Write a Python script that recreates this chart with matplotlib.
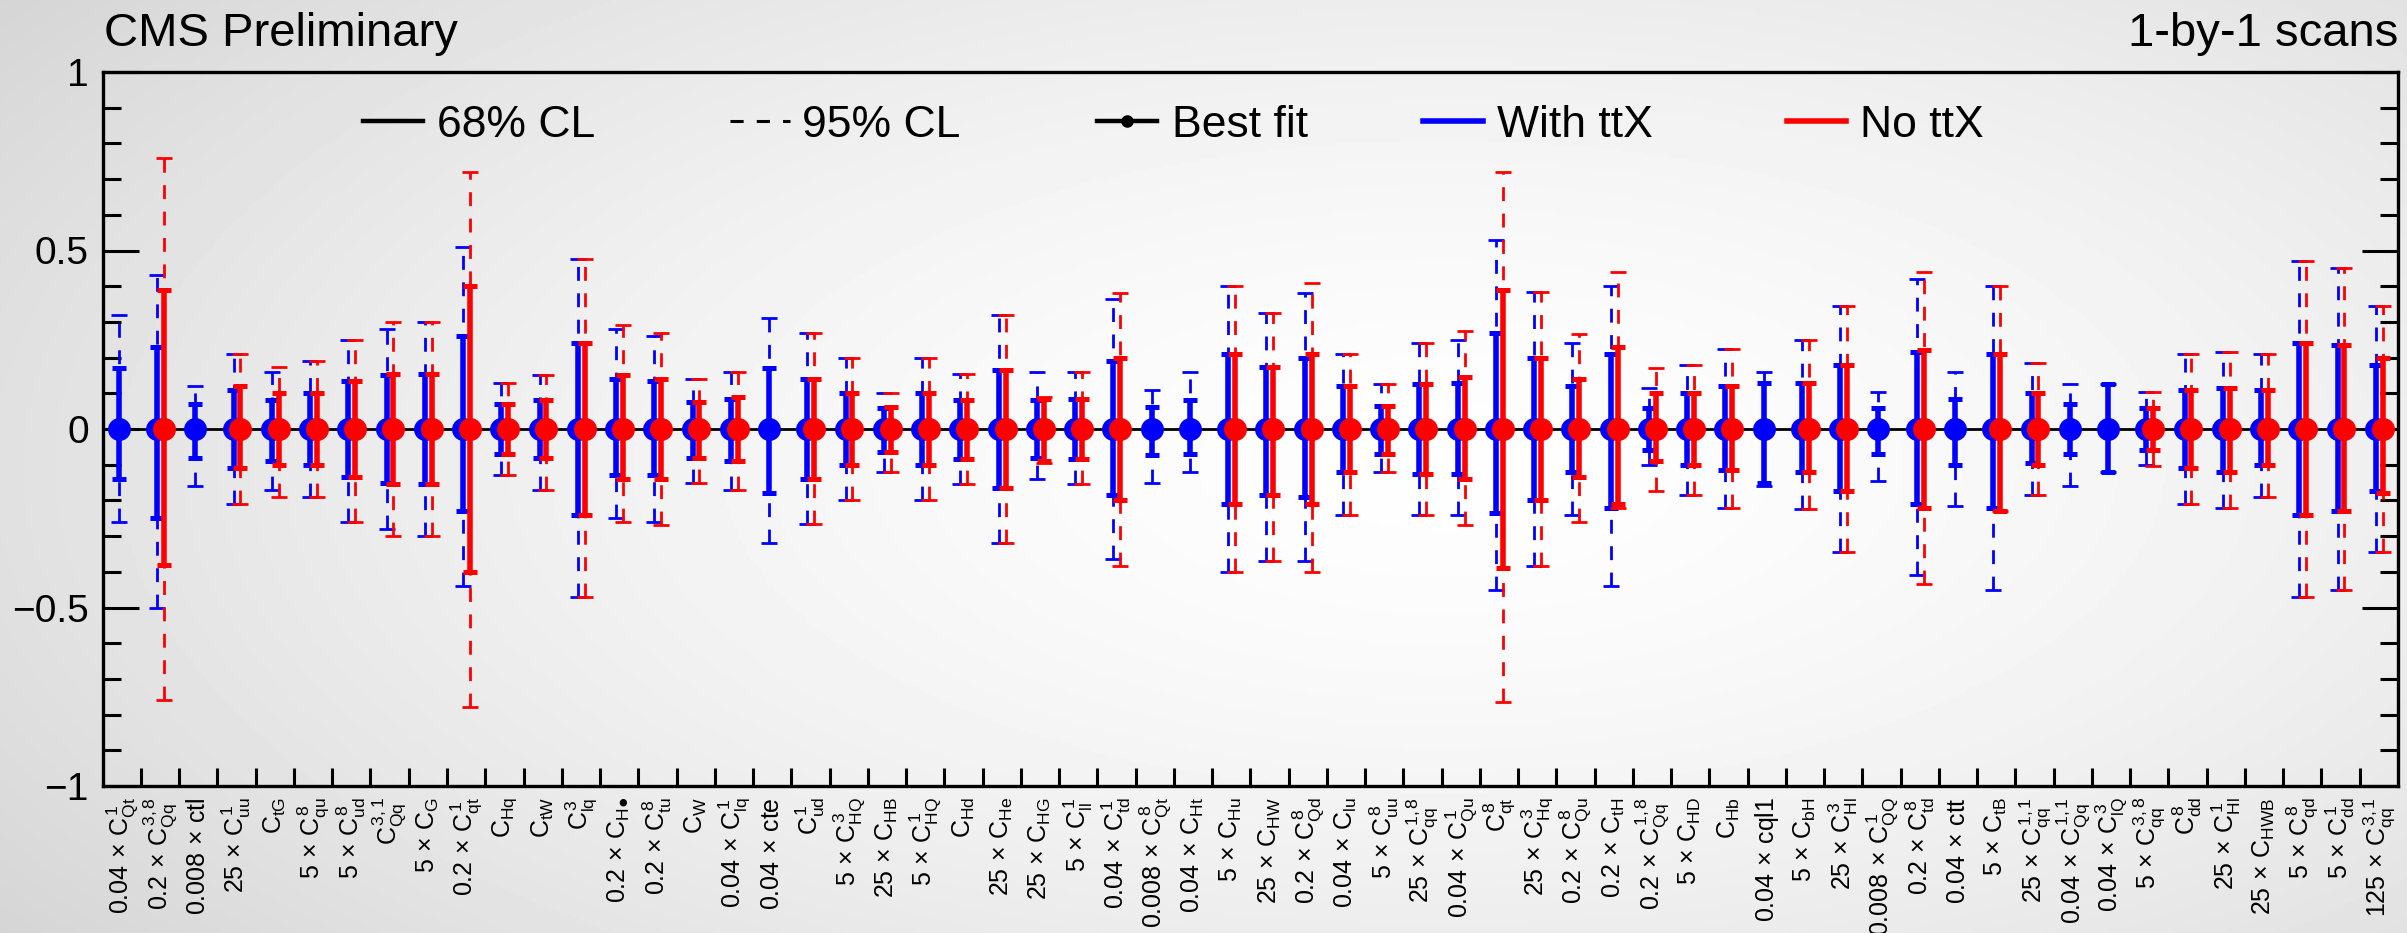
import numpy as np
import matplotlib
matplotlib.use("Agg")
import matplotlib.pyplot as plt
from matplotlib.lines import Line2D

plt.rcParams['font.family'] = ['Liberation Sans', 'DejaVu Sans']
plt.rcParams['mathtext.fontset'] = 'custom'
plt.rcParams['mathtext.rm'] = 'Liberation Sans'
plt.rcParams['mathtext.it'] = 'Liberation Sans'
plt.rcParams['mathtext.bf'] = 'Liberation Sans:bold'
plt.rcParams['mathtext.sf'] = 'Liberation Sans'
plt.rcParams['mathtext.fallback'] = 'stixsans'

# ---------------- data ----------------
labels = [
    r'$0.04\,\times\,C^{1}_{Qt}$', r'$0.2\,\times\,C^{3,8}_{Qq}$', r'$0.008\,\times\,\mathrm{ctl}$',
    r'$25\,\times\,C^{1}_{uu}$', r'$C_{tG}$', r'$5\,\times\,C^{8}_{qu}$', r'$5\,\times\,C^{8}_{ud}$',
    r'$C^{3,1}_{Qq}$', r'$5\,\times\,C_{G}$', r'$0.2\,\times\,C^{1}_{qt}$', r'$C_{Hq}$', r'$C_{tW}$',
    r'$C^{3}_{lq}$', '$0.2\\,\\times\\,C_{H\u25CF}$', r'$0.2\,\times\,C^{8}_{tu}$', r'$C_{W}$',
    r'$0.04\,\times\,C^{1}_{lq}$', r'$0.04\,\times\,\mathrm{cte}$', r'$C^{1}_{ud}$',
    r'$5\,\times\,C^{3}_{HQ}$', r'$25\,\times\,C_{HB}$', r'$5\,\times\,C^{1}_{HQ}$', r'$C_{Hd}$',
    r'$25\,\times\,C_{He}$', r'$25\,\times\,C_{HG}$', r'$5\,\times\,C^{1}_{ll}$', r'$0.04\,\times\,C^{1}_{td}$',
    r'$0.008\,\times\,C^{8}_{Qt}$', r'$0.04\,\times\,C_{Ht}$', r'$5\,\times\,C_{Hu}$', r'$25\,\times\,C_{HW}$',
    r'$0.2\,\times\,C^{8}_{Qd}$', r'$0.04\,\times\,C_{lu}$', r'$5\,\times\,C^{8}_{uu}$',
    r'$25\,\times\,C^{1,8}_{qq}$', r'$0.04\,\times\,C^{1}_{Qu}$', r'$C^{8}_{qt}$',
    r'$25\,\times\,C^{3}_{Hq}$', r'$0.2\,\times\,C^{8}_{Qu}$', r'$0.2\,\times\,C_{tH}$',
    r'$0.2\,\times\,C^{1,8}_{Qq}$', r'$5\,\times\,C_{HD}$', r'$C_{Hb}$', r'$0.04\,\times\,\mathrm{cql1}$',
    r'$5\,\times\,C_{bH}$', r'$25\,\times\,C^{3}_{Hl}$', r'$0.008\,\times\,C^{1}_{QQ}$',
    r'$0.2\,\times\,C^{8}_{td}$', r'$0.04\,\times\,\mathrm{ctt}$', r'$5\,\times\,C_{tB}$',
    r'$25\,\times\,C^{1,1}_{qq}$', r'$0.04\,\times\,C^{1,1}_{Qq}$', r'$0.04\,\times\,C^{3}_{lQ}$',
    r'$5\,\times\,C^{3,8}_{qq}$', r'$C^{8}_{dd}$', r'$25\,\times\,C^{1}_{Hl}$', r'$25\,\times\,C_{HWB}$',
    r'$5\,\times\,C^{8}_{qd}$', r'$5\,\times\,C^{1}_{dd}$', r'$125\,\times\,C^{3,1}_{qq}$',
]

nan = np.nan
# With ttX (blue)
blue_68_up = [0.17, 0.23, 0.07, 0.11, 0.08, 0.10, 0.135, 0.15, 0.155, 0.26,
              0.07, 0.08, 0.24, 0.14, 0.135, 0.075, 0.085, 0.17, 0.14, 0.10,
              0.06, 0.10, 0.08, 0.165, 0.08, 0.085, 0.19, 0.063, 0.08, 0.21,
              0.175, 0.20, 0.12, 0.065, 0.125, 0.13, 0.27, 0.20, 0.12, 0.21,
              0.06, 0.10, 0.12, 0.13, 0.13, 0.18, 0.06, 0.215, 0.085, 0.21,
              0.10, 0.07, 0.125, 0.06, 0.11, 0.115, 0.11, 0.24, 0.235, 0.18]
blue_68_dn = [0.14, 0.25, 0.08, 0.11, 0.09, 0.10, 0.135, 0.15, 0.155, 0.23,
              0.07, 0.08, 0.24, 0.13, 0.13, 0.08, 0.09, 0.18, 0.14, 0.10,
              0.065, 0.10, 0.085, 0.165, 0.08, 0.085, 0.185, 0.074, 0.07, 0.21,
              0.185, 0.19, 0.12, 0.07, 0.125, 0.125, 0.235, 0.20, 0.12, 0.22,
              0.06, 0.10, 0.115, 0.15, 0.12, 0.175, 0.07, 0.21, 0.10, 0.22,
              0.095, 0.07, 0.12, 0.06, 0.11, 0.12, 0.10, 0.24, 0.23, 0.175]
blue_95_up = [0.32, 0.43, 0.12, 0.21, 0.16, 0.19, 0.25, 0.28, 0.30, 0.51,
              0.13, 0.15, 0.475, 0.28, 0.26, 0.14, 0.16, 0.31, 0.27, 0.20,
              0.10, 0.20, 0.155, 0.32, 0.16, 0.16, 0.365, 0.11, 0.16, 0.40,
              0.325, 0.38, 0.21, 0.125, 0.24, 0.25, 0.53, 0.385, 0.24, 0.40,
              0.115, 0.18, 0.225, 0.16, 0.25, 0.345, 0.105, 0.42, 0.16, 0.40,
              0.185, 0.125, 0.125, 0.105, 0.21, 0.215, 0.21, 0.47, 0.45, 0.345]
blue_95_dn = [0.26, 0.50, 0.16, 0.21, 0.17, 0.19, 0.26, 0.28, 0.30, 0.44,
              0.13, 0.17, 0.47, 0.25, 0.26, 0.15, 0.17, 0.32, 0.265, 0.20,
              0.12, 0.20, 0.155, 0.32, 0.14, 0.155, 0.365, 0.15, 0.12, 0.40,
              0.37, 0.37, 0.24, 0.12, 0.24, 0.24, 0.45, 0.385, 0.24, 0.44,
              0.10, 0.185, 0.22, 0.16, 0.225, 0.345, 0.145, 0.41, 0.215, 0.45,
              0.185, 0.16, 0.12, 0.10, 0.21, 0.22, 0.19, 0.47, 0.45, 0.345]
# No ttX (red)
red_68_up = [nan, 0.39, nan, 0.12, 0.10, 0.10, 0.135, 0.155, 0.155, 0.40,
             0.07, 0.08, 0.24, 0.15, 0.14, 0.075, 0.09, nan, 0.14, 0.10,
             0.063, 0.10, 0.08, 0.165, 0.085, 0.085, 0.20, nan, nan, 0.21,
             0.175, 0.21, 0.12, 0.065, 0.125, 0.145, 0.39, 0.20, 0.14, 0.23,
             0.10, 0.10, 0.12, nan, 0.13, 0.18, nan, 0.22, nan, 0.21,
             0.10, nan, nan, 0.06, 0.11, 0.115, 0.11, 0.24, 0.235, 0.20]
red_68_dn = [nan, 0.38, nan, 0.11, 0.10, 0.10, 0.135, 0.155, 0.155, 0.40,
             0.07, 0.08, 0.24, 0.14, 0.14, 0.08, 0.09, nan, 0.14, 0.10,
             0.065, 0.10, 0.085, 0.165, 0.09, 0.085, 0.20, nan, nan, 0.21,
             0.185, 0.21, 0.12, 0.07, 0.125, 0.14, 0.39, 0.20, 0.135, 0.21,
             0.09, 0.10, 0.115, nan, 0.12, 0.175, nan, 0.22, nan, 0.23,
             0.10, nan, nan, 0.06, 0.11, 0.12, 0.10, 0.24, 0.23, 0.18]
red_95_up = [nan, 0.76, nan, 0.21, 0.175, 0.19, 0.25, 0.30, 0.30, 0.72,
             0.13, 0.15, 0.475, 0.29, 0.27, 0.14, 0.16, nan, 0.27, 0.20,
             0.10, 0.20, 0.155, 0.32, 0.09, 0.16, 0.38, nan, nan, 0.40,
             0.325, 0.41, 0.21, 0.125, 0.24, 0.275, 0.72, 0.385, 0.265, 0.44,
             0.17, 0.18, 0.225, nan, 0.25, 0.345, nan, 0.44, nan, 0.40,
             0.185, nan, nan, 0.105, 0.21, 0.215, 0.21, 0.47, 0.45, 0.345]
red_95_dn = [nan, 0.76, nan, 0.21, 0.19, 0.19, 0.26, 0.30, 0.30, 0.78,
             0.13, 0.17, 0.47, 0.26, 0.27, 0.15, 0.17, nan, 0.265, 0.20,
             0.12, 0.20, 0.155, 0.32, 0.095, 0.155, 0.385, nan, nan, 0.40,
             0.37, 0.40, 0.24, 0.12, 0.24, 0.27, 0.765, 0.385, 0.26, 0.22,
             0.175, 0.185, 0.22, nan, 0.225, 0.345, nan, 0.435, nan, 0.23,
             0.185, nan, nan, 0.105, 0.21, 0.22, 0.19, 0.47, 0.45, 0.345]
best_fit_blue = [0.0] * 60
best_fit_red = [0.0] * 60

ytick_values = [-1, -0.5, 0, 0.5, 1]
ytick_labels = ['\u22121', '\u22120.5', '0', '0.5', '1']

# ---------------- figure ----------------
W, H = 2407, 933
fig = plt.figure(figsize=(W / 100, H / 100), dpi=100)

# radial gray background
bg = fig.add_axes([0, 0, 1, 1], zorder=-10)
gx, gy = np.meshgrid(np.linspace(0, 1, 600), np.linspace(0, 1, 300))
r = np.sqrt(((gx - 0.6) / 0.6) ** 2 + ((gy - 0.5) / 0.7) ** 2)
Z = np.clip(0.995 - 0.115 * r ** 1.6, 0, 1)
bg.imshow(Z, cmap='gray', vmin=0, vmax=1, extent=[0, 1, 0, 1], aspect='auto', origin='lower')
bg.axis('off')

axl, axr, axb, axt = 102.7 / W, 2398 / W, (H - 786) / H, (H - 72) / H
ax = fig.add_axes([axl, axb, axr - axl, axt - axb])
ax.patch.set_alpha(0)

x = np.arange(1, len(labels) + 1)
xb = x - 0.08
xr = x + 0.10

ax.axhline(0, color='black', lw=2.0, zorder=1)

def draw(xs, y, d68, u68, d95, u95, color, z):
    xs = np.asarray(xs); y = np.asarray(y)
    d68 = np.asarray(d68); u68 = np.asarray(u68)
    d95 = np.asarray(d95); u95 = np.asarray(u95)
    m = ~np.isnan(u68)
    eb = ax.errorbar(xs[m], y[m], yerr=[d95[m], u95[m]], fmt='none', ecolor=color,
                     elinewidth=2.0, capsize=6, capthick=2.0, zorder=z)
    eb[2][0].set_linestyle((0, (5, 4.5)))
    ax.errorbar(xs[m], y[m], yerr=[d68[m], u68[m]], fmt='o', color=color, ms=15.5,
                elinewidth=4.0, capsize=5, capthick=3.6, zorder=z + 1)

draw(xb, best_fit_blue, blue_68_dn, blue_68_up, blue_95_dn, blue_95_up, 'blue', 3)
draw(xr, best_fit_red, red_68_dn, red_68_up, red_95_dn, red_95_up, 'red', 5)

ax.set_xlim(0.5, len(labels) + 0.5)
ax.set_ylim(-1, 1)

# x: ticks at bin edges, labels at centres
ax.set_xticks(np.arange(1.5, len(labels), 1))
ax.set_xticklabels([])
ax.set_xticks(x, labels, minor=True, rotation=90)
ax.tick_params(axis='x', which='major', direction='in', length=13, width=2.2, top=False)
ax.tick_params(axis='x', which='minor', length=0, labelsize=18, pad=8)

ax.set_yticks(ytick_values, ytick_labels)
ax.set_yticks(np.arange(-1, 1.0001, 0.1), minor=True)
ax.tick_params(axis='y', which='major', direction='in', length=26, width=2.2,
               left=True, right=True, labelsize=28, pad=10)
ax.tick_params(axis='y', which='minor', direction='in', length=13, width=2.2,
               left=True, right=True)
for s in ax.spines.values():
    s.set_linewidth(2.4)

# titles
fig.text(104 / W, (H - 46) / H, 'CMS Preliminary', fontsize=34, va='baseline', ha='left')
fig.text(2398 / W, (H - 46) / H, '1-by-1 scans', fontsize=34, va='baseline', ha='right')

# manual legend (positions in pixels of the figure, converted to axes fraction)
leg_y = (786 - 121.4) / (786 - 72)
def fx(px):
    return (px - 102.7) / (2398 - 102.7)
leg_entries = [
    ('68% CL', 363, 423, 436.7, dict(color='black', lw=3.2, ls='-')),
    ('95% CL', 730, 790, 801.7, dict(color='black', lw=2.2, ls=(0, (4.3, 4.3)))),
    ('Best fit', 1096.7, 1156.7, 1171.7, dict(color='black', lw=3.2, ls='-', marker='o', ms=8, markevery=[1])),
    ('With ttX', 1423, 1483, 1496.7, dict(color='blue', lw=4, ls='-')),
    ('No ttX', 1786.7, 1846, 1860, dict(color='red', lw=4, ls='-')),
]
for txt, x0, x1, xt, style in leg_entries:
    xs = [fx(x0), fx((x0 + x1) / 2), fx(x1)]
    ax.add_line(Line2D(xs, [leg_y] * 3, transform=ax.transAxes, clip_on=False, **style))
    ax.text(fx(xt), leg_y, txt, transform=ax.transAxes, fontsize=32, va='center_baseline', ha='left')

fig.savefig('out.png', dpi=100)
